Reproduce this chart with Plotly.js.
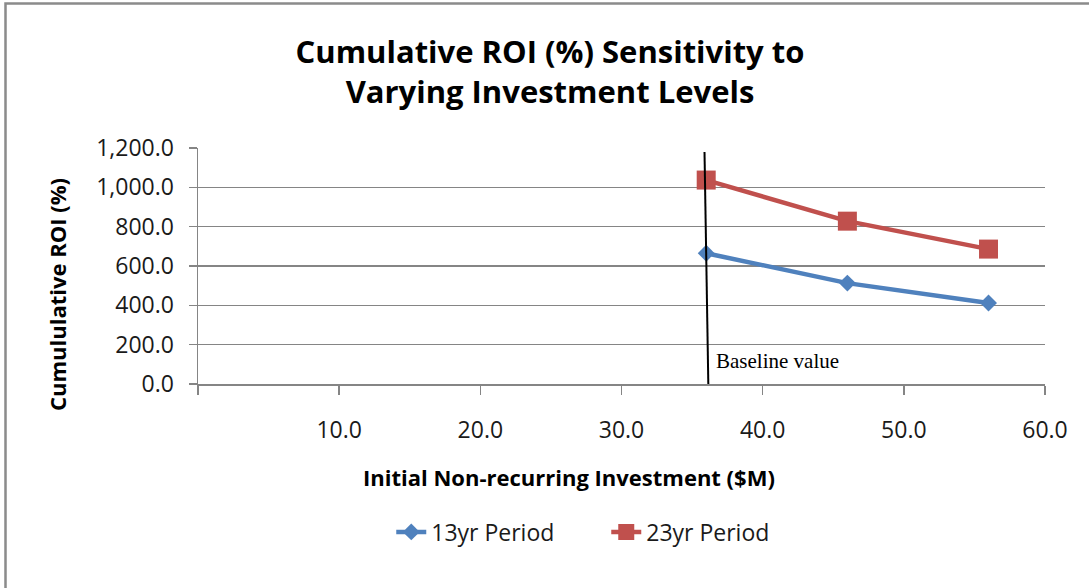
<!DOCTYPE html>
<html>
<head>
<meta charset="utf-8">
<script src="https://cdn.plot.ly/plotly-3.0.1.min.js"></script>
<style>html,body{margin:0;padding:0;background:#fff;}#chart{width:1089px;height:588px;}</style>
</head>
<body>
<div id="chart"></div>
<script>
// Data
var investment = [36, 46, 56];            // Initial Non-recurring Investment ($M)
var roi13yr = [665, 513, 412];            // 13yr Period cumulative ROI (%)
var roi23yr = [1037, 828, 686];           // 23yr Period cumulative ROI (%)
var seriesNames = ['13yr Period', '23yr Period'];
var xTickVals = [0, 10, 20, 30, 40, 50, 60];
var xTickText = ['', '10.0', '20.0', '30.0', '40.0', '50.0', '60.0'];
var baselineX = [35.88, 36.15];           // baseline marker line (top, bottom)
var baselineY = [1180, 0];
var baselineLabel = 'Baseline value';

var FONT = '"Open Sans", "Noto Sans", sans-serif';
var GRID = '#858585';

var traces = [
  {
    x: investment, y: roi13yr, name: seriesNames[0], type: 'scatter', mode: 'lines+markers',
    line: {color: '#4F81BD', width: 4.5},
    marker: {symbol: 'diamond', size: 13, color: '#4F81BD'}
  },
  {
    x: investment, y: roi23yr, name: seriesNames[1], type: 'scatter', mode: 'lines+markers',
    line: {color: '#C0504D', width: 4.5},
    marker: {symbol: 'square', size: 19, color: '#C0504D'}
  }
];

var layout = {
  width: 1089, height: 588,
  margin: {l: 198, r: 44, t: 148, b: 204},
  paper_bgcolor: '#fff', plot_bgcolor: '#fff',
  font: {family: FONT, color: '#1a1a1a'},
  title: {
    text: '<b>Cumulative ROI (%) Sensitivity to<br>Varying Investment Levels</b>',
    font: {family: FONT, size: 31, color: '#000'},
    x: 550 / 1089, xref: 'container', xanchor: 'center',
    y: 1 - 63 / 588, yref: 'container', yanchor: 'middle'
  },
  xaxis: {
    range: [0, 60], tickvals: xTickVals, ticktext: xTickText,
    showgrid: false, zeroline: false,
    showline: true, linecolor: GRID, linewidth: 1.5,
    ticks: 'outside', ticklen: 9, tickcolor: GRID, tickwidth: 1.5,
    tickfont: {family: FONT, size: 23, color: '#1a1a1a'},
    ticklabelstandoff: 16
  },
  yaxis: {
    range: [0, 1200], dtick: 200, tickformat: ',.1f',
    showgrid: true, gridcolor: GRID, gridwidth: 1.2, zeroline: false,
    showline: true, linecolor: GRID, linewidth: 1.5,
    ticks: 'outside', ticklen: 8, tickcolor: GRID, tickwidth: 1.5,
    tickfont: {family: FONT, size: 23, color: '#1a1a1a'},
    ticklabelstandoff: 10
  },
  legend: {
    orientation: 'h', x: 0.482, xanchor: 'center', y: -0.627, yanchor: 'middle',
    font: {family: FONT, size: 23, color: '#1a1a1a'},
    entrywidth: 170, entrywidthmode: 'pixels', itemgap: 30,
    bgcolor: 'rgba(0,0,0,0)'
  },
  showlegend: true,
  annotations: [
    {
      text: '<b>Initial Non-recurring Investment ($M)</b>', showarrow: false,
      xref: 'paper', yref: 'paper', x: (569 - 198) / 847, y: (384 - 477) / 236,
      xanchor: 'center', yanchor: 'middle',
      font: {family: FONT, size: 22, color: '#000'}
    },
    {
      text: '<b>Cumululative ROI (%)</b>', showarrow: false, textangle: -90,
      xref: 'paper', yref: 'paper', x: (57 - 198) / 847, y: (384 - 295) / 236,
      xanchor: 'center', yanchor: 'middle',
      font: {family: FONT, size: 22, color: '#000'}
    },
    {
      text: baselineLabel, showarrow: false,
      xref: 'x', yref: 'y', x: 36.55, y: 117, xanchor: 'left', yanchor: 'middle',
      font: {family: '"Liberation Serif", "Times New Roman", serif', size: 21, color: '#000'}
    }
  ],
  shapes: [
    {
      type: 'line', xref: 'x', yref: 'y',
      x0: baselineX[0], y0: baselineY[0], x1: baselineX[1], y1: baselineY[1],
      line: {color: '#000', width: 2}
    },
    {
      type: 'path', xref: 'paper', yref: 'paper',
      path: 'M ' + ((5.5 - 198) / 847) + ' ' + ((384 - 588) / 236) +
            ' L ' + ((5.5 - 198) / 847) + ' ' + ((384 - 3.5) / 236) +
            ' L ' + ((1089 - 198) / 847) + ' ' + ((384 - 3.5) / 236),
      line: {color: '#8b8b8b', width: 2.5}
    }
  ]
};

Plotly.newPlot('chart', traces, layout, {displayModeBar: false, staticPlot: true});
</script>
</body>
</html>
